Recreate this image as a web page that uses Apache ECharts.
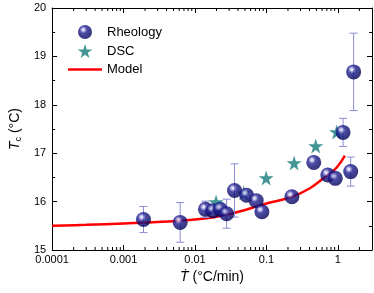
<!DOCTYPE html>
<html><head><meta charset="utf-8">
<script src="https://cdn.jsdelivr.net/npm/echarts@6/dist/echarts.min.js"></script>
<style>html,body{margin:0;padding:0;background:#fff}#c{width:374px;height:293px}</style>
</head><body><div id="c"></div>
<script>
// ---- data ----
const rheoX   = [0.0019, 0.0062, 0.0140, 0.0178, 0.0225, 0.0277, 0.0357, 0.0527, 0.0718, 0.0863, 0.227, 0.459, 0.722, 0.918, 1.18, 1.51, 1.66];
const rheoY   = [15.63, 15.57, 15.84, 15.81, 15.84, 15.75, 16.23, 16.13, 16.02, 15.79, 16.10, 16.81, 16.55, 16.48, 17.43, 16.62, 18.68];
const rheoErr = [0.27, 0.41, 0.17, null, null, 0.30, 0.55, null, null, null, null, null, null, null, 0.29, 0.30, 0.80];
const dscX = [0.0197, 0.048, 0.099, 0.244, 0.489, 0.96];
const dscY = [15.99, 16.18, 16.49, 16.80, 17.15, 17.44];
const modelX = [0.0001, 0.0003, 0.001, 0.003, 0.01, 0.03, 0.1, 0.23, 0.4, 0.6, 0.9, 1.1, 1.25];
const modelY = [15.50, 15.52, 15.55, 15.58, 15.63, 15.74, 15.96, 16.10, 16.27, 16.46, 16.66, 16.82, 16.95];
const xTickLabels = ['0.0001', '0.001', '0.01', '0.1', '1'];
const yTickLabels = ['15', '16', '17', '18', '19', '20'];

const X_MIN = 0.0001, X_MAX = 3, Y_MIN = 15, Y_MAX = 20;
const minorX = [];
for (let d = -4; d <= 0; d++) for (let k = 2; k <= 9; k++) { const v = k * Math.pow(10, d); if (v < X_MAX) minorX.push(+v.toPrecision(3)); }

const rheoData = rheoX.map((x, i) => [x, rheoY[i]]);
const errData = rheoX.map((x, i) => rheoErr[i] == null ? null : [x, rheoY[i] - rheoErr[i], rheoY[i] + rheoErr[i]]).filter(Boolean);
const dscData = dscX.map((x, i) => [x, dscY[i]]);
const modelData = modelX.map((x, i) => [x, modelY[i]]);

const sphere = {
  type: 'radial', x: 0.38, y: 0.34, r: 0.7,
  colorStops: [
    { offset: 0, color: '#ffffff' },
    { offset: 0.12, color: '#c4c4ec' },
    { offset: 0.36, color: '#1e1e92' },
    { offset: 1, color: '#000050' }
  ]
};
const starPath = 'path://M50,0 L61,35 L98,35 L68,57 L79,91 L50,70 L21,91 L32,57 L2,35 L39,35 Z';
const linePath = 'path://M0,0 L34,0 L34,2.4 L0,2.4 Z';
const font = 'Liberation Sans, Arial, sans-serif';

const chart = echarts.init(document.getElementById('c'), null, { renderer: 'canvas' });
const axisCommon = {
  axisLine: { show: true, onZero: false, lineStyle: { color: '#000', width: 1 } },
  axisTick: { show: true, inside: true, length: 5, lineStyle: { color: '#000' } },
  splitLine: { show: false }
};
chart.setOption({
  animation: false,
  grid: { left: 45, right: 2, top: 8, bottom: 43 },
  legend: {
    data: ['Rheology', 'DSC', { name: 'Model', icon: linePath, itemStyle: { color: '#ff0000' } }],
    orient: 'vertical', left: 68, top: 25, padding: 0,
    itemWidth: 34, itemHeight: 14, itemGap: 5,
    textStyle: { fontFamily: font, fontSize: 13, color: '#000' }
  },
  xAxis: [
    Object.assign({}, axisCommon, {
      type: 'log', logBase: 10, min: X_MIN, max: X_MAX, position: 'bottom',
      axisLabel: {
        margin: 4, fontFamily: font, fontSize: 11, color: '#000', showMaxLabel: false,
        formatter: v => { const i = Math.round(Math.log10(v)) + 4; return (Math.abs(Math.log10(v) - Math.round(Math.log10(v))) < 1e-6 && xTickLabels[i]) ? xTickLabels[i] : ''; }
      },
      name: '{i|\u1E6A} (°C/min)', nameLocation: 'middle', nameGap: 19,
      nameTextStyle: { fontFamily: font, fontSize: 14, color: '#000', rich: { i: { fontStyle: 'italic', fontSize: 14, fontFamily: font } } }
    }),
    Object.assign({}, axisCommon, {
      type: 'log', logBase: 10, min: X_MIN, max: X_MAX, position: 'top',
      axisLabel: { show: false }
    })
  ],
  yAxis: [
    Object.assign({}, axisCommon, {
      type: 'value', min: Y_MIN, max: Y_MAX, interval: 1, position: 'left',
      minorTick: { show: true, splitNumber: 2, length: 3, lineStyle: { color: '#000' } },
      axisLabel: { margin: 6, fontFamily: font, fontSize: 11, color: '#000', formatter: v => yTickLabels[Math.round(v - Y_MIN)] },
      name: '{i|T}{s|c} (°C)', nameLocation: 'middle', nameGap: 26, nameRotate: 90,
      nameTextStyle: { fontFamily: font, fontSize: 14, color: '#000',
        rich: { i: { fontStyle: 'italic', fontSize: 14, fontFamily: font }, s: { fontSize: 9, fontFamily: font, padding: [7, 0, 0, 0] } } }
    }),
    Object.assign({}, axisCommon, {
      type: 'value', min: Y_MIN, max: Y_MAX, interval: 1, position: 'right',
      minorTick: { show: true, splitNumber: 2, length: 3, lineStyle: { color: '#000' } },
      axisLabel: { show: false }
    })
  ],
  series: [
    {
      type: 'custom', name: 'minorX', silent: true, xAxisIndex: 0, yAxisIndex: 0,
      data: minorX.map(v => [v]),
      renderItem: (params, api) => {
        const b = api.coord([api.value(0), Y_MIN]);
        const t = api.coord([api.value(0), Y_MAX]);
        return { type: 'group', children: [
          { type: 'line', shape: { x1: b[0], y1: b[1], x2: b[0], y2: b[1] - 3 }, style: { stroke: '#000', lineWidth: 1 } },
          { type: 'line', shape: { x1: t[0], y1: t[1], x2: t[0], y2: t[1] + 3 }, style: { stroke: '#000', lineWidth: 1 } }
        ] };
      },
      z: 1
    },
    {
      type: 'line', name: 'Model', data: modelData, smooth: 0.4, showSymbol: false, symbol: 'none',
      lineStyle: { color: '#ff0000', width: 2.5 }, itemStyle: { color: '#ff0000' }, z: 2
    },
    {
      type: 'scatter', name: 'DSC', data: dscData, symbol: starPath, symbolSize: 15,
      itemStyle: { color: '#137b79' }, z: 3
    },
    {
      type: 'custom', name: 'err', silent: true, data: errData,
      renderItem: (params, api) => {
        const lo = api.coord([api.value(0), api.value(1)]);
        const hi = api.coord([api.value(0), api.value(2)]);
        const w = 4;
        const st = { stroke: '#8c8cd2', lineWidth: 1 };
        return { type: 'group', children: [
          { type: 'line', shape: { x1: lo[0], y1: lo[1], x2: hi[0], y2: hi[1] }, style: st },
          { type: 'line', shape: { x1: lo[0] - w, y1: lo[1], x2: lo[0] + w, y2: lo[1] }, style: st },
          { type: 'line', shape: { x1: hi[0] - w, y1: hi[1], x2: hi[0] + w, y2: hi[1] }, style: st }
        ] };
      },
      z: 4
    },
    {
      type: 'scatter', name: 'Rheology', data: rheoData, symbol: 'circle', symbolSize: 15,
      itemStyle: { color: sphere }, z: 5
    }
  ]
});
</script></body></html>
